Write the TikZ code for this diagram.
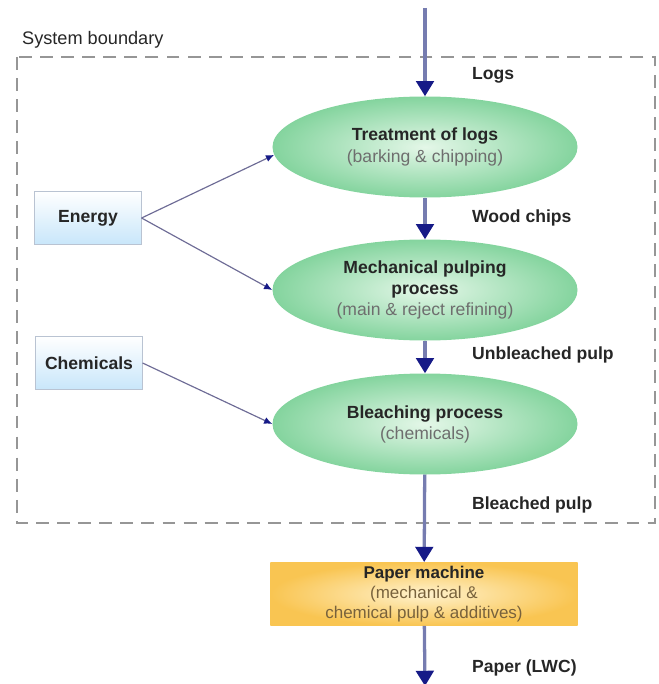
\documentclass[tikz,border=0pt]{standalone}
\usepackage{fontspec}
\setmainfont{Liberation Sans}
\usepackage{tikz}
\usetikzlibrary{arrows.meta, shapes.geometric, shadings}
\definecolor{procGreen}{RGB}{132,212,158}
\definecolor{procCore}{RGB}{228,247,232}
\definecolor{machGold}{RGB}{249,197,82}
\definecolor{machCore}{RGB}{255,242,205}
\definecolor{srcBlue}{RGB}{200,230,250}
\definecolor{srcEdge}{RGB}{185,195,210}
\definecolor{flowLine}{RGB}{118,124,176}
\definecolor{flowHead}{RGB}{22,26,135}
\definecolor{feedLine}{RGB}{110,108,150}
\definecolor{subGray}{RGB}{110,110,110}
\definecolor{subBrown}{RGB}{120,98,60}
\definecolor{edgeGray}{RGB}{150,150,150}

\begin{document}
\begin{tikzpicture}[x=0.03cm, y=-0.03cm,
	every node/.style={font=\fontsize{15}{18}\selectfont, text=black!85},
	proc/.style={ellipse, draw=none, shading=radial, inner color=procCore, outer color=procGreen, minimum width=9.15cm, minimum height=3.03cm, inner sep=0pt, align=center},
	src/.style={rectangle, draw=srcEdge, thin, top color=white, bottom color=srcBlue, minimum width=3.2cm, minimum height=1.6cm, font=\fontsize{15}{18}\selectfont\bfseries},
	flow/.style={line width=2.8pt, flowLine, -{Triangle[width=15pt, length=13pt, color=flowHead]}},
	feed/.style={line width=1pt, feedLine, -{Latex[width=6pt, length=7pt, color=flowHead]}},
	lbl/.style={anchor=west, font=\fontsize{15}{18}\selectfont\bfseries}
	]
	\useasboundingbox (0,0) rectangle (658,684);

	% system boundary
	\draw[edgeGray, line width=2pt, dash pattern=on 11pt off 7pt] (17,57) rectangle (655,523);
	\node[anchor=west, font=\fontsize{15.5}{18}\selectfont] (bound) at (18,40) {System boundary};

	% processes
	\node[proc] (treat) at (425,147) {\textbf{Treatment of logs}\\ \color{subGray}(barking \& chipping)};
	\node[proc] (pulping) at (425,290) {\textbf{Mechanical pulping}\\ \textbf{process}\\ \color{subGray}(main \& reject refining)};
	\node[proc] (bleach) at (425,424) {\textbf{Bleaching process}\\ \color{subGray}(chemicals)};
	\node[rectangle, shading=radial, inner color=machCore, outer color=machGold, minimum width=9.21cm, minimum height=1.8cm, align=center,
		font=\fontsize{14.5}{17}\selectfont] (machine) at (424,594)
		{\textbf{Paper machine}\\ \color{subBrown}(mechanical \&\\ \color{subBrown}chemical pulp \& additives)};

	% inputs
	\node[src] (energy) at (88,218) {Energy};
	\node[src] (chem) at (89,363) {Chemicals};

	% main flow
	\coordinate (in) at (425,8);
	\coordinate (out) at (425,686);
	\draw[flow] (in) -- (treat);
	\draw[flow] (treat) -- (pulping);
	\draw[flow] (pulping) -- (bleach);
	\draw[flow] (bleach) -- (machine);
	\draw[flow] (machine) -- (out);

	\node[lbl] (logs) at (468,75) {Logs};
	\node[lbl] (chips) at (468,218) {Wood chips};
	\node[lbl] (unbl) at (468,355) {Unbleached pulp};
	\node[lbl] (blch) at (468,505) {Bleached pulp};
	\node[lbl] (paper) at (468,668) {Paper (LWC)};

	% side feeds
	\draw[feed] (energy.east) -- (treat.183);
	\draw[feed] (energy.east) -- (pulping.west);
	\draw[feed] (chem.east) -- (bleach.west);
\end{tikzpicture}
\end{document}
